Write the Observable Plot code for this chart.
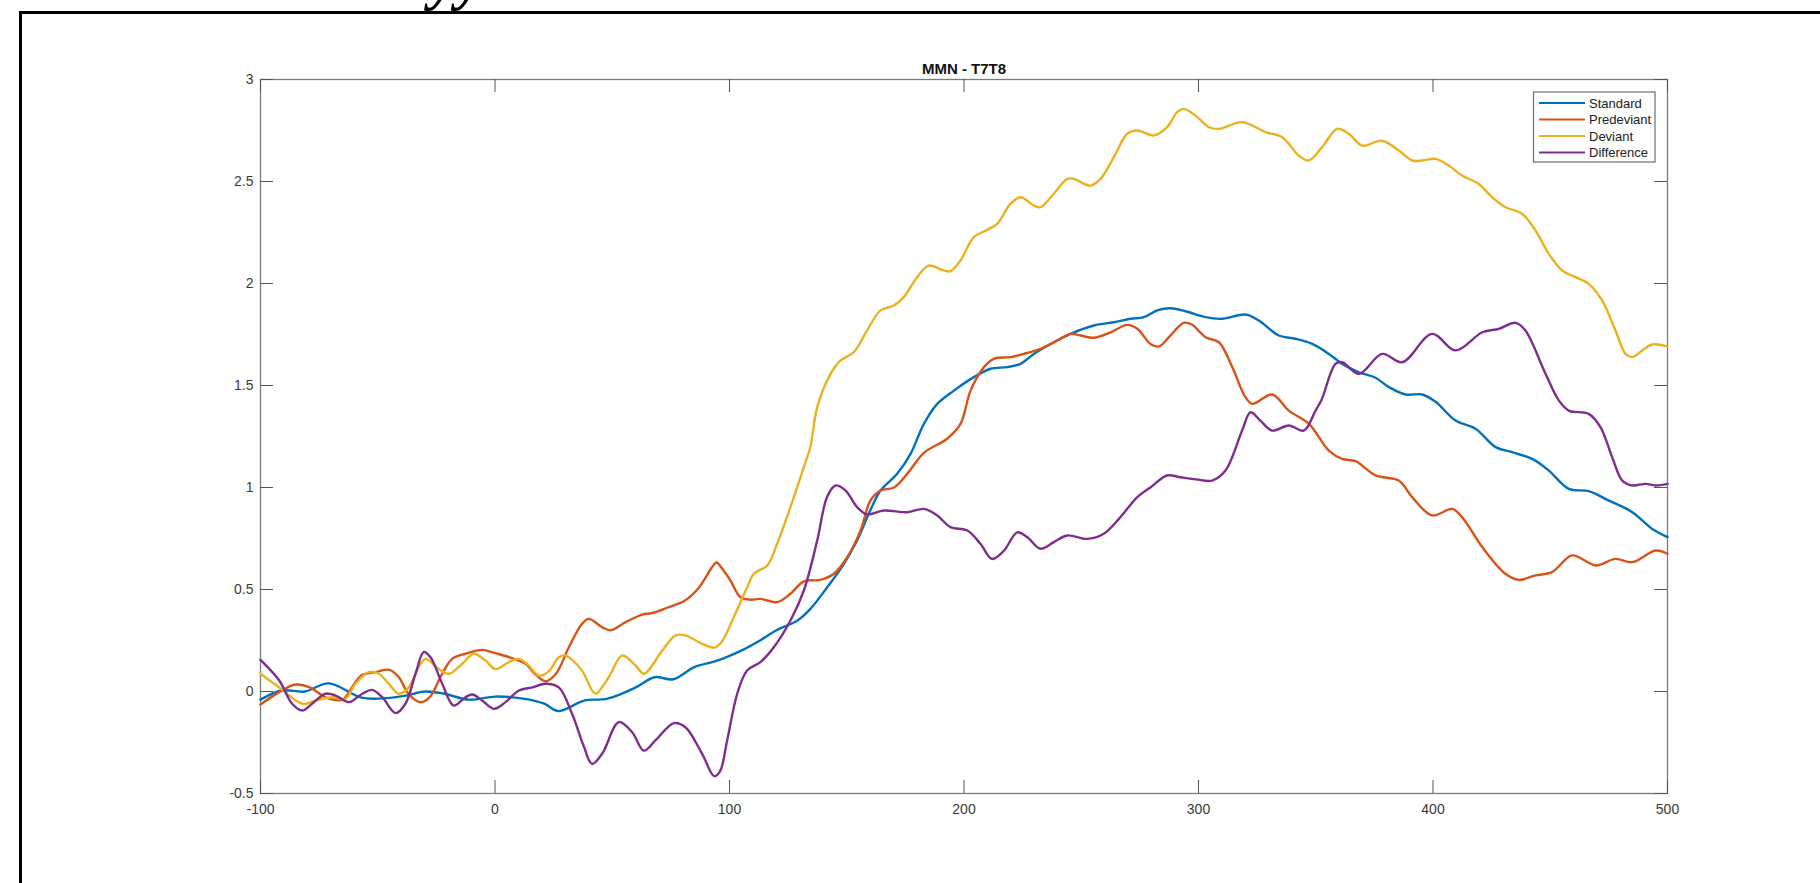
<!DOCTYPE html>
<html>
<head>
<meta charset="utf-8">
<script src="https://cdn.jsdelivr.net/npm/d3@7"></script>
<script src="https://cdn.jsdelivr.net/npm/@observablehq/plot@0.6"></script>
<style>
  html, body { margin: 0; padding: 0; background: #fff; overflow: hidden; }
  #wrap { position: relative; width: 1820px; height: 883px; overflow: hidden; background: #fff; }
  #chart { position: absolute; left: 0; top: 0; }
  .frameTop { position: absolute; left: 19px; top: 11px; right: 0; height: 3px; background: #000; }
  .frameLeft { position: absolute; left: 19px; top: 11px; width: 3px; bottom: 0; background: #000; }
  .cutText { position: absolute; left: 430px; top: -52px; font-family: "Liberation Serif", "Times New Roman", serif;
             font-weight: bold; font-style: italic; font-size: 60px; line-height: 60px; color: #000; white-space: nowrap; }
</style>
</head>
<body>
<div id="wrap">
  <div id="chart"></div>
  <div class="cutText">yy</div>
  <div class="frameTop"></div>
  <div class="frameLeft"></div>
</div>
<script>
// ---- Data ----
const chartTitle = "MMN - T7T8";
const seriesNames = ["Standard", "Predeviant", "Deviant", "Difference"];
const seriesColors = ["#0072BD", "#D95319", "#EDB120", "#7E2F8E"];
const xTicks = [-100, 0, 100, 200, 300, 400, 500];
const yTicks = [-0.5, 0, 0.5, 1, 1.5, 2, 2.5, 3];

const standardT = [-100,-91,-81,-71,-57,-50,-38,-30,-22,-11,0,12,21,27,38,48,60,68,76,85,93,98,105,113,120,129,134.5,141.6,148.8,154.4,160,164.4,171.5,177.2,182.9,188.6,195.7,204.2,211.3,218.4,224.1,229.8,238.3,245.4,255.4,263.9,271,276.7,282.4,288,294.5,303,310,320,325.7,334.3,341.4,348.5,355.6,361.3,368.4,375.5,381.2,388.3,395.4,401.1,409.6,418.1,426.7,433.7,442.3,449.4,457.9,466.4,475,485,493.5,500];
const standardV = [-0.04,0.005,0.0,0.04,-0.03,-0.035,-0.02,0.0,-0.01,-0.04,-0.025,-0.035,-0.06,-0.096,-0.045,-0.035,0.02,0.07,0.06,0.12,0.145,0.165,0.2,0.25,0.3,0.348,0.405,0.51,0.626,0.74,0.887,0.985,1.067,1.165,1.312,1.41,1.475,1.541,1.582,1.59,1.606,1.655,1.712,1.753,1.794,1.81,1.827,1.835,1.868,1.879,1.864,1.835,1.827,1.848,1.819,1.745,1.729,1.704,1.655,1.606,1.565,1.538,1.492,1.456,1.456,1.42,1.328,1.288,1.198,1.173,1.14,1.083,0.993,0.982,0.936,0.879,0.797,0.757];

const predeviantT = [-100,-92,-85,-79,-72,-65,-61,-57,-51,-45,-41,-37,-32,-28,-22.5,-18.3,-12.6,-5.5,0,7,13,17,21.5,26,31.5,37,40,45.7,49.3,55.7,62.8,67,74,81,87,92.6,94.5,97,100.4,104.7,109,113.2,120.3,126,131.7,138.8,144.5,150.2,155.9,160.1,164.4,170.1,175.8,182.9,192.8,198.5,202.8,208.5,212.7,219.8,225.5,232.6,239.7,245.4,249.7,255.4,262.5,269.6,273.9,279.5,283.1,288,293.7,297,303,308.7,314.4,320,323,331.4,338.5,347.1,355.6,361.3,367,375.5,385.4,391.1,399.6,408.2,412.4,421,430.9,436.6,443.7,450.8,459.3,469.3,477.8,485,494.9,500];
const predeviantV = [-0.064,-0.003,0.034,0.02,-0.03,-0.04,0.02,0.078,0.095,0.106,0.07,-0.01,-0.052,-0.03,0.087,0.16,0.185,0.204,0.188,0.165,0.136,0.087,0.05,0.087,0.217,0.33,0.356,0.315,0.3,0.34,0.377,0.384,0.413,0.446,0.51,0.61,0.632,0.6,0.544,0.462,0.45,0.454,0.438,0.479,0.54,0.547,0.577,0.658,0.79,0.936,0.985,1.0,1.067,1.17,1.239,1.312,1.475,1.59,1.631,1.639,1.655,1.68,1.72,1.753,1.745,1.734,1.761,1.797,1.778,1.704,1.691,1.745,1.807,1.8,1.737,1.712,1.59,1.443,1.41,1.456,1.377,1.312,1.181,1.14,1.129,1.059,1.034,0.953,0.863,0.895,0.855,0.708,0.577,0.547,0.569,0.585,0.667,0.618,0.65,0.634,0.691,0.675];

const deviantT = [-100,-92,-82,-76.5,-69.4,-63.8,-59.5,-53.8,-49.5,-45.3,-41,-36.8,-32.5,-29.6,-24,-19.7,-14,-9,-4.1,0.2,5.9,10.2,14.4,18.7,23,27.2,30.1,37.2,41.4,43,48.5,54.2,60,63.5,71.3,77,81.2,88.3,93.5,96.5,101.8,107.5,110.4,116.1,120.3,126,131.7,134.5,137.4,143.1,147.3,153,158.7,164.4,170.1,174.3,180,185,191.4,194.2,198.5,204.2,209.9,214.1,219.8,224.1,229.8,232.6,238.3,244,246.8,253.9,258.2,263.9,269.6,273.9,281,286.6,290.9,293.7,299,304.4,308.7,318.6,328.6,335.7,342.8,347,352.7,359.1,364.1,369.8,378.3,385.4,391.1,395.4,401.1,406.7,412.4,419.5,425.2,430.9,438,443.7,449.4,455.1,460.8,466.4,472.1,477.8,482.1,485,489.2,493.5,500];
const deviantV = [0.087,0.02,-0.06,-0.044,-0.028,-0.036,0.038,0.095,0.087,0.038,-0.011,0.02,0.12,0.16,0.11,0.087,0.136,0.185,0.152,0.11,0.144,0.16,0.127,0.078,0.1,0.168,0.176,0.1,0.005,-0.011,0.07,0.176,0.127,0.087,0.2,0.275,0.275,0.234,0.215,0.24,0.364,0.51,0.577,0.618,0.724,0.904,1.1,1.2,1.394,1.557,1.622,1.663,1.77,1.868,1.892,1.933,2.031,2.088,2.064,2.06,2.113,2.227,2.263,2.292,2.39,2.423,2.382,2.374,2.44,2.513,2.513,2.48,2.513,2.619,2.734,2.75,2.726,2.766,2.84,2.856,2.82,2.766,2.758,2.791,2.742,2.717,2.627,2.603,2.668,2.758,2.734,2.676,2.7,2.652,2.603,2.603,2.611,2.578,2.529,2.488,2.423,2.374,2.342,2.26,2.145,2.064,2.031,1.998,1.917,1.77,1.655,1.639,1.672,1.701,1.691];

const differenceT = [-100,-92,-86.5,-82.2,-78,-72.3,-68,-62.3,-56.6,-52.4,-48.1,-42.4,-38.2,-33.9,-30.4,-27.5,-22.5,-17.6,-12.6,-9.7,-5.5,-0.5,4.5,10.2,15.9,21.5,27.2,32.9,37.9,41.4,45.7,52.8,58.5,63.5,68.4,76.3,81.2,88.3,93.5,96,99,103.3,107.5,113.2,118.9,126,131.7,137.4,141.6,145.2,149.5,154.4,158.7,165.8,175.8,182.9,188.6,194.2,201.4,207,212,217,222.7,226.9,232.6,238.3,244,252.5,259.6,266.7,273.9,279.5,286.6,292.3,299,305.8,311.5,318.6,322.2,326.4,331.4,338.5,344.9,349.9,352.5,358.4,361.3,368.4,378.3,386.9,399.6,409.6,421,428.1,435.2,439.4,448,453.7,457.9,466.4,471.4,476.4,480.7,485,490.6,494.9,500];
const differenceV = [0.155,0.054,-0.06,-0.093,-0.06,-0.011,-0.02,-0.052,-0.011,0.008,-0.028,-0.106,-0.06,0.087,0.193,0.168,0.038,-0.069,-0.028,-0.015,-0.044,-0.085,-0.052,0.005,0.02,0.038,0.02,-0.11,-0.27,-0.355,-0.305,-0.15,-0.2,-0.29,-0.24,-0.155,-0.175,-0.305,-0.415,-0.39,-0.24,-0.011,0.103,0.144,0.217,0.348,0.495,0.74,0.953,1.01,0.985,0.904,0.868,0.887,0.879,0.895,0.863,0.806,0.789,0.724,0.65,0.69,0.78,0.757,0.7,0.732,0.765,0.748,0.773,0.855,0.953,1.0,1.059,1.05,1.04,1.034,1.083,1.279,1.369,1.328,1.279,1.304,1.279,1.377,1.43,1.606,1.614,1.557,1.655,1.614,1.753,1.672,1.761,1.778,1.807,1.77,1.557,1.426,1.377,1.361,1.296,1.149,1.034,1.01,1.018,1.01,1.018];

// ---- Build table ----
const seriesData = [
  [standardT, standardV],
  [predeviantT, predeviantV],
  [deviantT, deviantV],
  [differenceT, differenceV]
];
const rows = [];
seriesData.forEach(([ts, vs], i) => {
  ts.forEach((t, j) => rows.push({series: seriesNames[i], t, v: vs[j]}));
});

const W = 1820, H = 883;
const mL = 260, mR = 153, mT = 79, mB = 90;
const innerW = W - mL - mR, innerH = H - mT - mB;
const tickLen = 13;
const axisColor = "#7a7a7a";
const tickColor = "#555";

const chart = Plot.plot({
  width: W,
  height: H,
  marginLeft: mL, marginRight: mR, marginTop: mT, marginBottom: mB,
  style: {background: "#fff", fontFamily: "'Liberation Sans', Arial, Helvetica, sans-serif", fontSize: "14px", color: "#3a3a3a"},
  x: {domain: [-100, 500], label: null},
  y: {domain: [-0.5, 3], label: null},
  color: {domain: seriesNames, range: seriesColors},
  marks: [
    Plot.frame({stroke: axisColor, strokeWidth: 1.3}),
    // inward ticks (MATLAB style) on all four sides
    Plot.ruleX(xTicks, {x: d => d, insetTop: innerH - tickLen, stroke: tickColor, strokeWidth: 1}),
    Plot.ruleX(xTicks, {x: d => d, insetBottom: innerH - tickLen, stroke: tickColor, strokeWidth: 1}),
    Plot.ruleY(yTicks, {y: d => d, insetRight: innerW - tickLen, stroke: tickColor, strokeWidth: 1}),
    Plot.ruleY(yTicks, {y: d => d, insetLeft: innerW - tickLen, stroke: tickColor, strokeWidth: 1}),
    Plot.axisX(xTicks, {tickSize: 0, tickPadding: 11, tickFormat: d => String(d), label: null, fill: "#3a3a3a", fontSize: 14}),
    Plot.axisY(yTicks, {tickSize: 0, tickPadding: 7, tickFormat: d => String(d), label: null, fill: "#3a3a3a", fontSize: 14}),
    Plot.lineY(rows, {x: "t", y: "v", stroke: "series", z: "series", strokeWidth: 2.4, curve: "catmull-rom"}),
    Plot.text([chartTitle], {text: d => d, frameAnchor: "top", lineAnchor: "bottom", dy: -6,
      fontWeight: "bold", fontSize: 15, fill: "#111"})
  ]
});
document.getElementById("chart").appendChild(chart);

// ---- Legend (MATLAB style box, top right inside axes) ----
const svg = d3.select(chart);
const lg = svg.append("g").attr("class", "legend").attr("text-anchor", "start");
const lgX = 1533.5, lgY = 92, lgW = 121.5, lgH = 70;
lg.append("rect").attr("x", lgX).attr("y", lgY).attr("width", lgW).attr("height", lgH)
  .attr("fill", "#fff").attr("stroke", "#6e6e6e").attr("stroke-width", 1.2);
const rowY = [103, 119.5, 136, 152.5];
seriesNames.forEach((name, i) => {
  lg.append("line").attr("x1", 1539).attr("x2", 1585).attr("y1", rowY[i]).attr("y2", rowY[i])
    .attr("stroke", seriesColors[i]).attr("stroke-width", 2.2);
  lg.append("text").attr("x", 1589).attr("y", rowY[i]).attr("dy", "0.35em")
    .attr("text-anchor", "start")
    .attr("font-size", 13).attr("fill", "#222")
    .attr("font-family", "'Liberation Sans', Arial, sans-serif").text(name);
});
</script>
</body>
</html>
